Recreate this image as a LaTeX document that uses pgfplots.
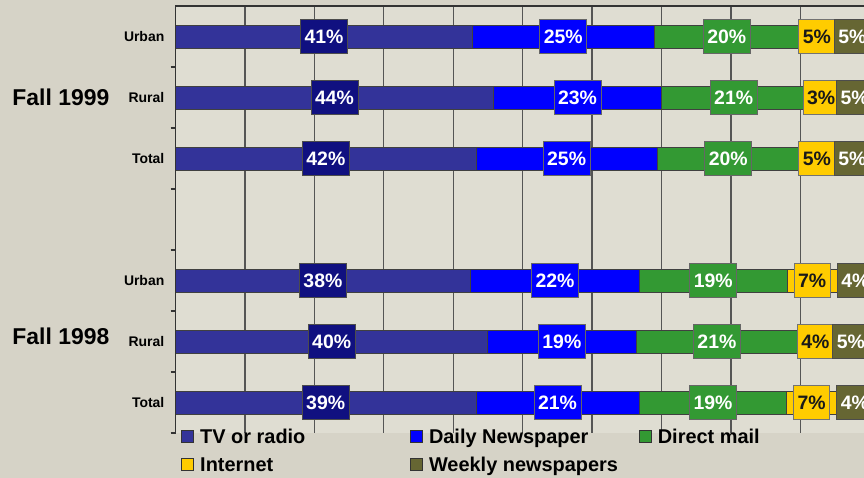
\documentclass[border=0pt]{standalone}
\usepackage{fontspec}
\setmainfont{Liberation Sans}
\usepackage{pgfplots}
\usepackage{pgfplotstable}
\pgfplotsset{compat=1.18}

\definecolor{outerbg}{RGB}{214,211,199}
\definecolor{plotbg}{RGB}{223,221,210}
\definecolor{gridc}{HTML}{555555}
\definecolor{axisc}{HTML}{333333}
\definecolor{tvc}{HTML}{333399}
\definecolor{tvbox}{HTML}{101080}
\definecolor{dailyc}{HTML}{0000FF}
\definecolor{mailc}{HTML}{339933}
\definecolor{netc}{HTML}{FFCC00}
\definecolor{weekc}{HTML}{666633}

% segment lengths (percent units)
\pgfplotstableread{
y tv daily mail net weekly
1 40.9 25.0 20.0 4.8 5
2 43.8 23.1 19.9 4.2 5
3 41.4 24.9 19.6 4.8 5
5 40.6 23.3 20.3 6.9 5
6 43.0 20.4 22.3 4.8 5
7 41.35 22.5 20.3 6.9 5
}\bars

% label positions (segment centres) and printed values
\pgfplotstableread{
y tvm tvl dm dl mm ml nm nl wm wl
1 20.45 41 53.4 25 75.9 20 88.3 5 93.2 5
2 21.9 44 55.35 23 76.85 21 88.9 3 93.5 5
3 20.7 42 53.85 25 76.1 20 88.3 5 93.2 5
5 20.3 38 52.25 22 74.05 19 87.65 7 93.6 4
6 21.5 40 53.2 19 74.55 21 88.1 4 93.0 5
7 20.675 39 52.6 21 74.0 19 87.6 7 93.55 4
}\labs

\pgfplotsset{
  sq legend/.style={legend image code/.code={%
    \draw[##1, draw=black!80, line width=0.8bp] (0bp,-6bp) rectangle (12bp,6bp);}},
  frame/.style={at={(175.5bp,45bp)}, anchor=south west, scale only axis,
    width=688.5bp, height=427bp, xmin=0, xmax=94.8, ymin=0.5, ymax=7.5, y dir=reverse},
}

\newcommand\labfont{\fontsize{19.5}{20}\selectfont\bfseries}

\begin{document}
\begin{tikzpicture}
\useasboundingbox (0,0) rectangle (864bp,478bp);
\fill[outerbg] (0,0) rectangle (864bp,478bp);
\clip (0,0) rectangle (864bp,478bp);

\begin{axis}[
  frame,
  xbar stacked, bar width=23bp,
  axis background/.style={fill=plotbg},
  axis line style={draw=none},
  xtick={9.56,19.12,28.68,38.24,47.8,57.36,66.92,76.48,86.04},
  xticklabels={},
  xmajorgrids,
  major x grid style={gridc, line width=1.2bp},
  major x tick style={draw=none},
  ytick={1,2,3,5,6,7},
  yticklabels={Urban,Rural,Total,Urban,Rural,Total},
  major tick length=0pt,
  minor ytick={1.5,2.5,3.5,4.5,5.5,6.5,7.5},
  minor y tick style={axisc, line width=1.2bp},
  minor tick length=5bp,
  tick align=outside,
  yticklabel style={font=\fontsize{14}{14}\selectfont\bfseries, inner sep=0pt, xshift=-11bp},
  legend columns=3,
  legend cell align=left,
  legend style={at={(0.0076,0.014)}, anchor=north west, draw=none, fill=none,
    inner sep=0pt, row sep=10bp,
    nodes={font=\fontsize{20}{20}\selectfont\bfseries, inner xsep=6.5bp, inner ysep=0bp,
      text height=16bp, text depth=2bp}},
  after end axis/.code={\draw[axisc, line width=1.3bp]
    (axis description cs:0,0) -- (axis description cs:0,1) -- (axis description cs:1,1);},
]
\addplot[fill=tvc, draw=black!75, line width=0.6bp, sq legend] table[x=tv, y=y] {\bars};
\addlegendentry{\makebox[203bp][l]{TV or radio}}
\addplot[fill=dailyc, draw=black!75, line width=0.6bp, sq legend] table[x=daily, y=y] {\bars};
\addlegendentry{\makebox[203bp][l]{Daily Newspaper}}
\addplot[fill=mailc, draw=black!75, line width=0.6bp, sq legend] table[x=mail, y=y] {\bars};
\addlegendentry{\makebox[203bp][l]{Direct mail}}
\addplot[fill=netc, draw=black!75, line width=0.6bp, sq legend] table[x=net, y=y] {\bars};
\addlegendentry{\makebox[203bp][l]{Internet}}
\addplot[fill=weekc, draw=black!75, line width=0.6bp, sq legend] table[x=weekly, y=y] {\bars};
\addlegendentry{\makebox[203bp][l]{Weekly newspapers}}
\end{axis}

\begin{axis}[
  frame, hide axis, clip=false,
  point meta=explicit symbolic,
  nodes near coords={\pgfplotspointmeta\%},
  nodes near coords style={anchor=center, font=\labfont, minimum height=34bp,
    inner xsep=4bp, inner ysep=0bp, line width=0.8bp},
]
\addplot[draw=none, nodes near coords style={fill=tvbox, draw=black!70, text=white}]
  table[x=tvm, y=y, meta=tvl] {\labs};
\addplot[draw=none, nodes near coords style={fill=dailyc, draw=black!60, text=white}]
  table[x=dm, y=y, meta=dl] {\labs};
\addplot[draw=none, nodes near coords style={fill=mailc, draw=black!60, text=white}]
  table[x=mm, y=y, meta=ml] {\labs};
\addplot[draw=none, nodes near coords style={fill=netc, draw=black!55, text=black!90}]
  table[x=nm, y=y, meta=nl] {\labs};
\addplot[draw=none, nodes near coords style={fill=weekc, draw=black!70, text=white}]
  table[x=wm, y=y, meta=wl] {\labs};
\end{axis}

\node[anchor=base west, font=\fontsize{23}{23}\selectfont\bfseries, inner sep=0pt]
  at (12.3bp,372bp) {Fall 1999};
\node[anchor=base west, font=\fontsize{23}{23}\selectfont\bfseries, inner sep=0pt]
  at (12.3bp,133bp) {Fall 1998};
\end{tikzpicture}
\end{document}
